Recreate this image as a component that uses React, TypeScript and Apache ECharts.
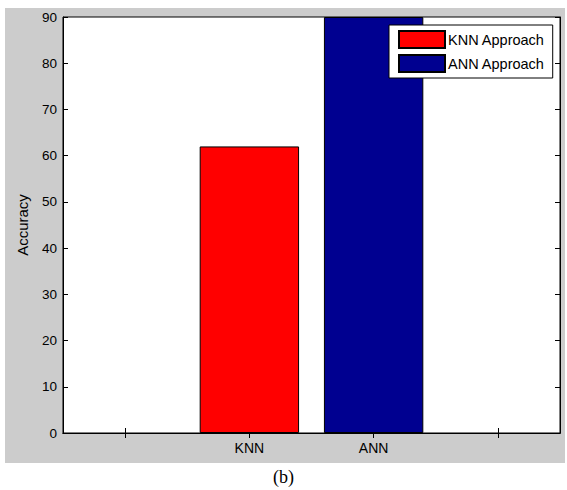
import React, { useEffect, useRef } from "react";
import * as echarts from "echarts";

const categories = ["", "KNN", "ANN", ""];
const knnValues = [null, 62, null, null];
const annValues = [null, null, 90, null];
const yTicks = { min: 0, max: 90, interval: 10 };
const seriesNames = ["KNN Approach", "ANN Approach"];
const caption = "(b)";
const yLabel = "Accuracy";

export default function App() {
  const ref = useRef<HTMLDivElement>(null);
  useEffect(() => {
    if (!ref.current) return;
    const chart = echarts.init(ref.current, undefined, { renderer: "svg" });
    const font = "'Liberation Sans', Arial, sans-serif";
    chart.setOption({
      animation: false,
      backgroundColor: "transparent",
      textStyle: { fontFamily: font },
      grid: {
        left: 63,
        right: 7,
        top: 17,
        bottom: 57,
        show: true,
        backgroundColor: "#ffffff",
        borderColor: "#000000",
        borderWidth: 1,
      },
      legend: {
        show: true,
        data: seriesNames,
        orient: "vertical",
        left: 389,
        top: 25,
        icon: "rect",
        itemWidth: 46,
        itemHeight: 17,
        itemGap: 5,
        padding: [5, 8, 5, 9],
        backgroundColor: "#ffffff",
        borderColor: "#000000",
        borderWidth: 1,
        borderRadius: 0,
        selectedMode: false,
        textStyle: { fontSize: 14.5, color: "#000", fontFamily: font, padding: [0, 0, 0, -2] },
      },
      xAxis: [
        {
          type: "category",
          data: categories,
          position: "bottom",
          axisLine: { show: true, lineStyle: { color: "#000", width: 1 } },
          axisTick: { show: true, inside: true, alignWithLabel: true, length: 5, lineStyle: { color: "#000" } },
          axisLabel: { fontSize: 14, color: "#000", margin: 8, fontFamily: font },
          splitLine: { show: false },
        },
        {
          type: "category",
          data: categories,
          position: "top",
          axisLine: { show: true, lineStyle: { color: "#000", width: 1 } },
          axisTick: { show: true, inside: true, alignWithLabel: true, length: 5, lineStyle: { color: "#000" } },
          axisLabel: { show: false },
          splitLine: { show: false },
        },
      ],
      yAxis: [
        {
          type: "value",
          min: yTicks.min,
          max: yTicks.max,
          interval: yTicks.interval,
          position: "left",
          name: yLabel,
          nameLocation: "middle",
          nameGap: 33,
          nameTextStyle: { fontSize: 15, color: "#000", fontFamily: font },
          axisLine: { show: true, lineStyle: { color: "#000", width: 1 } },
          axisTick: { show: true, inside: true, length: 5, lineStyle: { color: "#000" } },
          axisLabel: { fontSize: 13.5, color: "#000", margin: 6, fontFamily: font },
          splitLine: { show: false },
        },
        {
          type: "value",
          min: yTicks.min,
          max: yTicks.max,
          interval: yTicks.interval,
          position: "right",
          axisLine: { show: true, lineStyle: { color: "#000", width: 1 } },
          axisTick: { show: true, inside: true, length: 5, lineStyle: { color: "#000" } },
          axisLabel: { show: false },
          splitLine: { show: false },
        },
      ],
      series: [
        {
          name: seriesNames[0],
          type: "bar",
          data: knnValues,
          stack: "s",
          barWidth: "80%",
          itemStyle: { color: "#ff0000", borderColor: "#000000", borderWidth: 1 },
        },
        {
          name: seriesNames[1],
          type: "bar",
          data: annValues,
          stack: "s",
          barWidth: "80%",
          itemStyle: { color: "#000090", borderColor: "#000000", borderWidth: 1 },
        },
      ],
      graphic: [
        {
          type: "text",
          left: "center",
          top: 468,
          style: {
            text: caption,
            fontSize: 18,
            fontFamily: "'Liberation Serif', 'Times New Roman', serif",
            fill: "#000",
          },
        },
      ],
    });
    return () => chart.dispose();
  }, []);

  return (
    <div style={{ position: "fixed", left: 0, top: 0, width: 567, height: 490, background: "#ffffff" }}>
      <div style={{ position: "absolute", left: 5, top: 8, width: 560, height: 455, background: "#cccccc" }} />
      <div ref={ref} style={{ position: "absolute", left: 0, top: 0, width: 567, height: 490 }} />
    </div>
  );
}
